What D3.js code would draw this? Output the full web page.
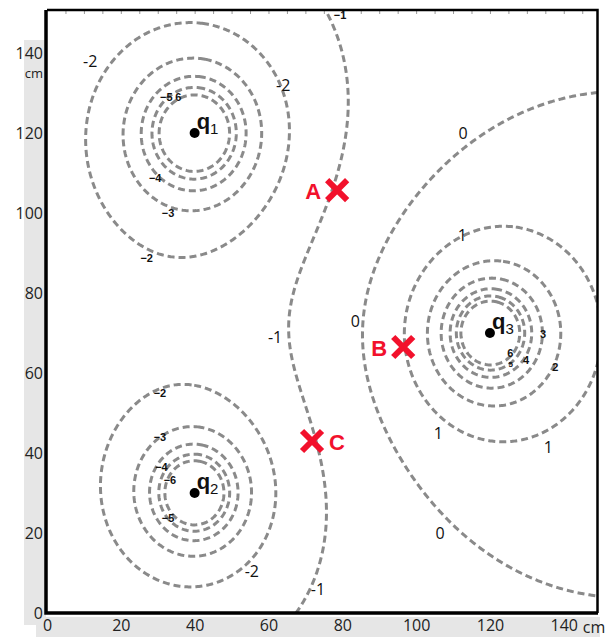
<!DOCTYPE html>
<html>
<head>
<meta charset="utf-8">
<script src="https://cdn.jsdelivr.net/npm/d3@7"></script>
<style>
  body { margin: 0; background: #fff; }
  svg { display: block; font-family: "Open Sans", "Liberation Sans", sans-serif; }
</style>
</head>
<body>
<div id="chart"></div>
<script>
// point charges (cm, arbitrary units)
const chargeNames = ["q1", "q2", "q3"];
const chargeX = [40, 40, 120];
const chargeY = [120, 30, 70];
const chargeQ = [-58, -48, 57];

// equipotential levels drawn
const levels = [-6, -5, -4, -3, -2, -1, 0, 1, 2, 3, 4, 5, 6];

// contour labels: [x cm, y cm, text, small?]
const labelX = [11.7, 64, 32.3, 35.6, 29.3, 32.8, 27, 79.4, 112.7, 112.5, 83.5, 61.8, 134.4, 125.5, 125.6, 129.8, 137.7, 106, 135.8, 106.5, 73.4, 30.6, 30.6, 31, 33.3, 32.8, 55.5];
const labelY = [138, 132, 129, 129, 108.7, 100, 88.7, 149.4, 120, 94.5, 73, 69, 69.7, 64.9, 62.3, 63.3, 61.5, 45, 41.5, 20, 5.8, 55, 44, 36.5, 33.2, 23.7, 10.3];
const labelText = ["-2", "-2", "\u22125", "6", "\u22124", "\u22123", "\u22122", "\u22121", "0", "1", "0", "-1", "3", "6", "5", "4", "2", "1", "1", "0", "-1", "\u22122", "\u22123", "\u22124", "\u22126", "\u22125", "-2"];
const labelSmall = [0, 0, 1, 1, 1, 1, 1, 1, 0, 0, 0, 0, 1, 1, 2, 1, 1, 0, 0, 0, 0, 1, 1, 1, 1, 1, 0];

// test points
const pointNames = ["A", "B", "C"];
const pointX = [78.6, 96.5, 71.8];
const pointY = [105.7, 66.5, 43];

const xTicks = [0, 20, 40, 60, 80, 100, 120, 140];
const yTicks = [0, 20, 40, 60, 80, 100, 120, 140];

const width = 608, height = 637;
const svg = d3.select("#chart").append("svg")
  .attr("width", width).attr("height", height);

const x = d3.scaleLinear().domain([0, 149]).range([47, 597]);
const y = d3.scaleLinear().domain([0, 150.5]).range([613, 11]);

// grey strips behind tick labels
svg.append("rect").attr("x", 24).attr("y", 40).attr("width", 22).attr("height", 585).attr("fill", "#e6e6e6");
svg.append("rect").attr("x", 36).attr("y", 617).attr("width", 564).attr("height", 20).attr("fill", "#e6e6e6");
svg.append("rect").attr("x", 46).attr("y", 10).attr("width", 552).attr("height", 603).attr("fill", "#fff");

// potential on a grid a bit larger than the plot, then clipped
const gx0 = -10, gx1 = 160, gy0 = -10, gy1 = 161, nx = 420, ny = 420;
const dx = (gx1 - gx0) / nx, dy = (gy1 - gy0) / ny;
const values = new Array(nx * ny);
for (let j = 0; j < ny; j++) {
  for (let i = 0; i < nx; i++) {
    const px = gx0 + (i + 0.5) * dx, py = gy0 + (j + 0.5) * dy;
    let v = 0;
    for (let k = 0; k < chargeQ.length; k++) {
      const r = Math.max(Math.hypot(px - chargeX[k], py - chargeY[k]), 0.5);
      v += chargeQ[k] / r;
    }
    values[i + j * nx] = Math.max(-30, Math.min(30, v));
  }
}

const contours = d3.contours().size([nx, ny]).thresholds(levels)(values);
const proj = d3.geoTransform({
  point: function(px, py) {
    this.stream.point(x(gx0 + px * dx), y(gy0 + py * dy));
  }
});
const path = d3.geoPath(proj);

svg.append("clipPath").attr("id", "plotclip")
  .append("rect").attr("x", 47).attr("y", 11).attr("width", 550).attr("height", 601);

svg.append("g").attr("clip-path", "url(#plotclip)")
  .selectAll("path").data(contours).join("path")
  .attr("d", path)
  .attr("fill", "none")
  .attr("stroke", "#8a8a8a")
  .attr("stroke-width", 3)
  .attr("stroke-dasharray", "7,4");

// top minor ticks
svg.append("g").attr("transform", "translate(0,10)")
  .call(d3.axisBottom(x).tickValues(d3.range(5, 149, 5)).tickSize(4).tickFormat(""))
  .call(g => g.select(".domain").remove())
  .selectAll("line").attr("stroke", "#999");

// frame
svg.append("path").attr("d", `M${x(0)},10 H597.5 V${y(0)}`).attr("fill", "none").attr("stroke", "#000").attr("stroke-width", 2.5);
svg.append("path").attr("d", `M46,10 V613 H598`).attr("fill", "none").attr("stroke", "#000").attr("stroke-width", 3.5);

// axes labels
const xAxis = svg.append("g").attr("transform", "translate(0,615)")
  .call(d3.axisBottom(x).tickValues(xTicks).tickSize(0).tickPadding(5));
xAxis.select(".domain").remove();
xAxis.selectAll("text").attr("font-size", 16).attr("fill", "#222").attr("font-family", "'Open Sans', sans-serif");
svg.append("text").attr("x", x(140) + 19).attr("y", 633).attr("font-size", 16).attr("fill", "#222").text("cm");

const yAxis = svg.append("g").attr("transform", "translate(43,0)")
  .call(d3.axisLeft(y).tickValues(yTicks).tickSize(0).tickPadding(0));
yAxis.select(".domain").remove();
yAxis.selectAll("text").attr("font-size", 16).attr("fill", "#222").attr("font-family", "'Open Sans', sans-serif");
svg.append("text").attr("x", 43).attr("y", y(140) + 25).attr("text-anchor", "end").attr("font-size", 13).attr("fill", "#222").text("cm");

// contour labels
svg.append("g").selectAll("text").data(labelText).join("text")
  .attr("x", (d, i) => x(labelX[i]))
  .attr("y", (d, i) => y(labelY[i]))
  .attr("dy", "0.35em")
  .attr("text-anchor", "middle")
  .attr("font-family", (d, i) => labelSmall[i] ? "'Liberation Sans', Arial, sans-serif" : "'Open Sans', sans-serif")
  .attr("font-size", (d, i) => labelSmall[i] === 2 ? 8 : labelSmall[i] ? 11 : 16)
  .attr("font-weight", (d, i) => labelSmall[i] ? "bold" : "normal")
  .attr("fill", "#111")
  .text(d => d);

// charges
const cg = svg.append("g").selectAll("g").data(chargeNames).join("g")
  .attr("transform", (d, i) => `translate(${x(chargeX[i])},${y(chargeY[i])})`);
cg.append("circle").attr("r", 5).attr("fill", "#000");
const ct = cg.append("text").attr("x", 2).attr("y", -4)
  .attr("font-family", "'Liberation Sans', Arial, sans-serif")
  .attr("font-weight", "bold").attr("font-size", 22).attr("fill", "#111");
ct.append("tspan").text("q");
ct.append("tspan").attr("dy", 5).attr("font-size", 15).attr("font-weight", "normal").text(d => d.slice(1));

// test points
const red = "#f2112c";
const pg = svg.append("g").selectAll("g").data(pointNames).join("g")
  .attr("transform", (d, i) => `translate(${x(pointX[i])},${y(pointY[i])})`);
pg.append("path").attr("d", "M-10,-10L10,10M-10,10L10,-10")
  .attr("stroke", red).attr("stroke-width", 6).attr("stroke-linecap", "butt");
pg.append("text")
  .attr("x", (d, i) => i === 2 ? 17 : -16)
  .attr("y", 1)
  .attr("dy", "0.35em")
  .attr("text-anchor", (d, i) => i === 2 ? "start" : "end")
  .attr("font-family", "'Liberation Sans', Arial, sans-serif")
  .attr("font-weight", "bold").attr("font-size", 22).attr("fill", red)
  .text(d => d);
</script>
</body>
</html>
